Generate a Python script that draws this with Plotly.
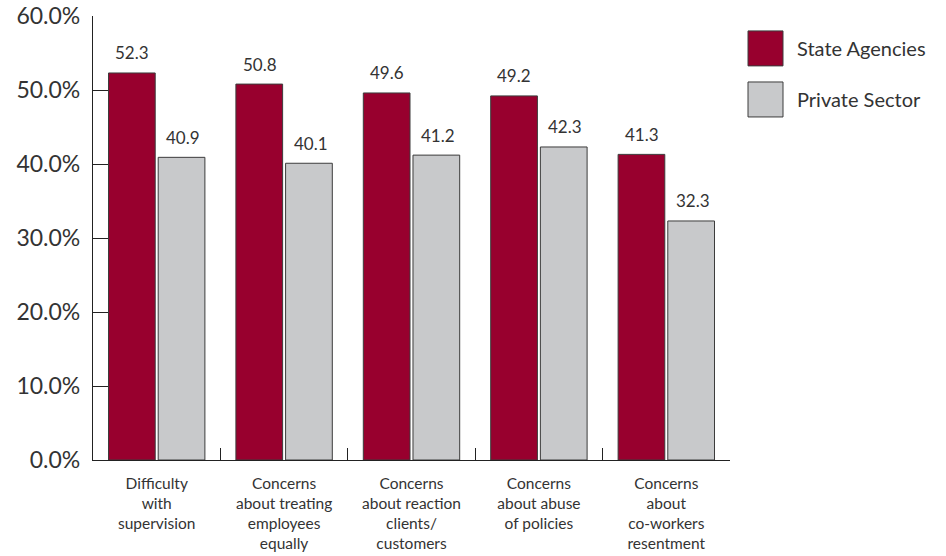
import plotly.graph_objects as go

categories = [
    "Difficulty<br>with<br>supervision",
    "Concerns<br>about treating<br>employees<br>equally",
    "Concerns<br>about reaction<br>clients/<br>customers",
    "Concerns<br>about abuse<br>of policies",
    "Concerns<br>about<br>co-workers<br>resentment",
]
state_agencies = [52.3, 50.8, 49.6, 49.2, 41.3]
private_sector = [40.9, 40.1, 41.2, 42.3, 32.3]
series_names = ["State Agencies", "Private Sector"]
series_colors = ["#98002E", "#C8C9CB"]
y_ticks = [0, 10, 20, 30, 40, 50, 60]
y_ticktext = [f"{v:.1f}%" for v in y_ticks]

FONT = "Lato"
fig = go.Figure()
for name, vals, col in zip(series_names, [state_agencies, private_sector], series_colors):
    fig.add_trace(go.Bar(
        x=categories, y=vals, name=name,
        marker=dict(color=col, line=dict(color="#3c3c3c", width=1)),
        showlegend=False,
    ))

# value labels above bars
shifts = [-25.5, 25.5]
for vals, sh in zip([state_agencies, private_sector], shifts):
    for c, v in zip(categories, vals):
        fig.add_annotation(x=c, y=v, xref="x", yref="y", text=f"{v:.1f}",
                           showarrow=False, xshift=sh + 1, yshift=20,
                           yanchor="middle",
                           font=dict(family=FONT, size=17, color="#333333"))

# custom legend
legend_y = [0.927, 0.812]
for name, col, ly in zip(series_names, series_colors, legend_y):
    fig.add_shape(type="rect", xref="paper", yref="paper",
                  x0=(748 - 93) / 637, x1=(783 - 93) / 637,
                  y0=ly - 0.0394, y1=ly + 0.0394,
                  fillcolor=col, line=dict(color="#3c3c3c", width=1))
    fig.add_annotation(xref="paper", yref="paper", x=(795 - 93) / 637, y=ly,
                       text=name, showarrow=False, xanchor="left", yanchor="middle",
                       font=dict(family=FONT, size=20, color="#333333"))

fig.update_layout(
    width=946, height=556,
    margin=dict(l=93, r=216, t=16, b=96),
    paper_bgcolor="white", plot_bgcolor="white",
    barmode="group", bargap=0.22, bargroupgap=0.06,
    font=dict(family=FONT, color="#333333"),
)
fig.update_xaxes(
    type="category", showline=True, linecolor="#222222", linewidth=1.2,
    tickson="boundaries", ticks="inside", ticklen=12, tickcolor="#222222", tickwidth=1.2,
    showgrid=False, tickfont=dict(family=FONT, size=15.5, color="#333333"),
    ticklabelstandoff=9, automargin=False,
)
fig.update_yaxes(
    range=[0, 60], tickmode="array", tickvals=y_ticks, ticktext=y_ticktext,
    showline=True, linecolor="#222222", linewidth=1.2,
    ticks="inside", ticklen=15, tickcolor="#222222", tickwidth=1.2,
    showgrid=False, zeroline=False,
    tickfont=dict(family=FONT, size=23, color="#333333"),
    ticklabelstandoff=7, automargin=False,
)
fig.write_html("out.html")
